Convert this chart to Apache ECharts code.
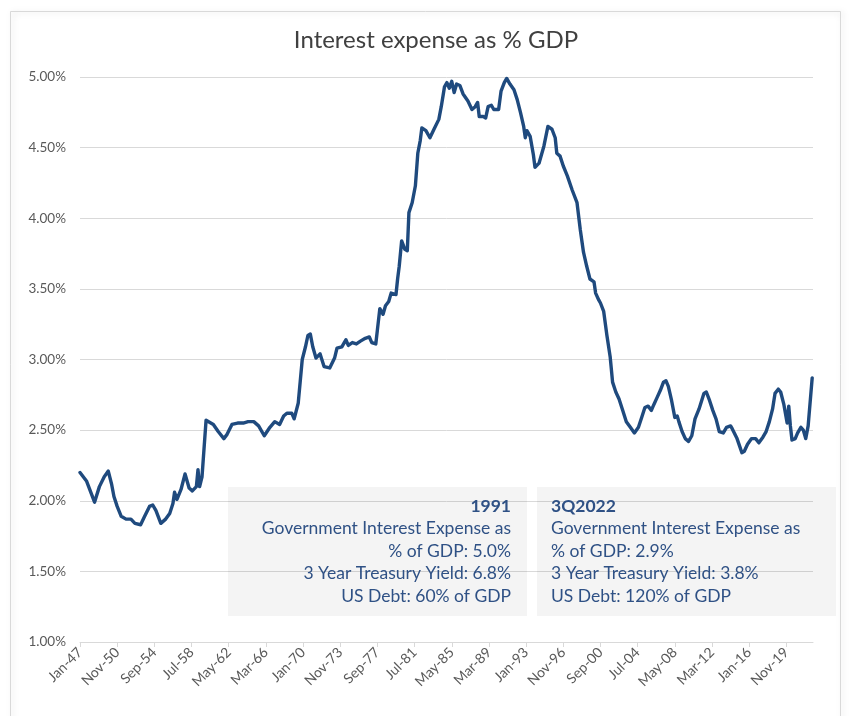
<!DOCTYPE html>
<html>
<head>
<meta charset="utf-8">
<title>Interest expense as % GDP</title>
<script src="https://cdn.jsdelivr.net/npm/echarts@6/dist/echarts.min.js"></script>
<style>
  html, body { margin: 0; padding: 0; background: #ffffff; }
  #chart { width: 851px; height: 716px; }
</style>
</head>
<body>
<div id="chart"></div>
<script>
// Monthly category axis: Jan-47 through Aug-22
const monthNames = ['Jan','Feb','Mar','Apr','May','Jun','Jul','Aug','Sep','Oct','Nov','Dec'];
const firstYear = 1947, lastYear = 2022, lastMonth = 8; // Aug
const monthCats = [];
for (let y = firstYear; y <= lastYear; y++) {
  for (let m = 0; m < 12; m++) {
    if (y === lastYear && m >= lastMonth) break;
    monthCats.push(monthNames[m] + '-' + String(y % 100).padStart(2, '0'));
  }
}

// Government interest expense as % of GDP, observation months
const obsMonths = [
  'Jan-47','Sep-47','Jan-48','Jul-48','Jan-49','Jul-49','Dec-49','Apr-50','Jul-50','Nov-50',
  'Apr-51','Oct-51','Apr-52','Sep-52','Apr-53','Sep-53','Mar-54','Jul-54','Nov-54','May-55',
  'Nov-55','Apr-56','Aug-56','Oct-56','Jan-57','Jun-57','Nov-57','Apr-58','Aug-58','Jan-59',
  'Mar-59','May-59','Aug-59','Jan-60','Mar-60','Oct-60','Apr-61','Nov-61','Mar-62','Sep-62',
  'Apr-63','Nov-63','May-64','Dec-64','Jun-65','Jan-66','Aug-66','Feb-67','Aug-67','Jan-68',
  'May-68','Nov-68','Feb-69','Jul-69','Dec-69','Apr-70','Jul-70','Oct-70','Jan-71','May-71',
  'Oct-71','Mar-72','Oct-72','Apr-73','Jul-73','Jan-74','Apr-74','Jun-74','Sep-74','Feb-75',
  'Jul-75','Dec-75','Jun-76','Nov-76','Feb-77','Jul-77','Sep-77','Dec-77','Apr-78','Jul-78',
  'Nov-78','Feb-79','Aug-79','Oct-79','Dec-79','Mar-80','Jul-80','Oct-80','Dec-80','Apr-81',
  'Aug-81','Nov-81','Feb-82','Apr-82','Sep-82','Feb-83','Jul-83','Jan-84','Apr-84','Aug-84',
  'Nov-84','Feb-85','May-85','Aug-85','Nov-85','Mar-86','Jul-86','Jan-87','Jun-87','Oct-87',
  'Jan-88','Mar-88','Aug-88','Nov-88','Feb-89','Jun-89','Sep-89','Mar-90','Jun-90','Oct-90',
  'Jan-91','May-91','Oct-91','Feb-92','Jun-92','Oct-92','Dec-92','Feb-93','Jun-93','Oct-93',
  'Dec-93','May-94','Nov-94','Apr-95','Sep-95','Jan-96','Mar-96','Jul-96','Nov-96','Apr-97',
  'Oct-97','Apr-98','Aug-98','Dec-98','Apr-99','Aug-99','Jan-00','Mar-00','Jul-00','Sep-00',
  'Jan-01','May-01','Sep-01','Dec-01','Apr-02','Aug-02','Dec-02','May-03','Oct-03','Mar-04',
  'Aug-04','Dec-04','Apr-05','Aug-05','Dec-05','Mar-06','Jul-06','Nov-06','Mar-07','Jun-07',
  'Sep-07','Jan-08','May-08','Aug-08','Oct-08','Feb-09','Jun-09','Oct-09','Feb-10','Jun-10',
  'Nov-10','May-11','Aug-11','Dec-11','Apr-12','Aug-12','Dec-12','May-13','Sep-13','Feb-14',
  'Apr-14','Oct-14','Jan-15','Apr-15','Jul-15','Nov-15','Apr-16','Sep-16','Jan-17','Jun-17',
  'Oct-17','Feb-18','Jun-18','Sep-18','Jan-19','Apr-19','Aug-19','Dec-19','Feb-20','Apr-20',
  'Jun-20','Oct-20','Jan-21','May-21','Aug-21','Nov-21','Feb-22','Jul-22'
];
const interestPctGdp = [
  2.20,2.14,2.08,1.99,2.10,2.17,2.21,2.12,2.03,1.96,
  1.89,1.87,1.87,1.84,1.83,1.89,1.96,1.97,1.93,1.84,
  1.87,1.91,1.98,2.06,2.01,2.08,2.19,2.09,2.07,2.10,
  2.22,2.10,2.17,2.57,2.58,2.54,2.49,2.44,2.47,2.54,
  2.55,2.55,2.56,2.56,2.53,2.46,2.52,2.56,2.54,2.60,
  2.62,2.62,2.58,2.69,3.00,3.09,3.17,3.18,3.09,3.01,
  3.04,2.95,2.94,3.01,3.08,3.09,3.12,3.14,3.10,3.12,
  3.11,3.13,3.15,3.16,3.12,3.11,3.21,3.36,3.32,3.38,
  3.41,3.47,3.46,3.57,3.66,3.84,3.78,3.77,4.04,4.11,
  4.23,4.46,4.55,4.64,4.62,4.57,4.63,4.70,4.79,4.93,
  4.96,4.92,4.97,4.89,4.95,4.94,4.88,4.83,4.77,4.79,
  4.82,4.72,4.72,4.71,4.79,4.80,4.77,4.77,4.90,4.96,
  4.99,4.95,4.91,4.84,4.75,4.65,4.57,4.62,4.58,4.45,
  4.36,4.39,4.51,4.65,4.63,4.57,4.46,4.44,4.37,4.30,
  4.20,4.11,3.92,3.76,3.66,3.57,3.55,3.47,3.42,3.40,
  3.34,3.17,3.02,2.84,2.77,2.72,2.65,2.56,2.52,2.48,
  2.52,2.59,2.66,2.67,2.64,2.68,2.73,2.78,2.84,2.85,
  2.81,2.71,2.59,2.60,2.56,2.49,2.44,2.42,2.46,2.58,
  2.65,2.76,2.77,2.71,2.64,2.58,2.49,2.48,2.52,2.53,
  2.51,2.44,2.39,2.34,2.35,2.40,2.44,2.44,2.41,2.45,
  2.49,2.56,2.65,2.76,2.79,2.77,2.68,2.55,2.67,2.53,
  2.43,2.44,2.48,2.52,2.50,2.44,2.53,2.87
];

// Y axis ticks (percent)
const yTicks = { min: 1.0, max: 5.0, step: 0.5 };
const labelEvery = 46; // months between axis labels

// Call-out notes
const note1991 = [
  '1991',
  'Government Interest Expense as',
  '% of GDP: 5.0%',
  '3 Year Treasury Yield: 6.8%',
  'US Debt: 60% of GDP'
];
const note2022 = [
  '3Q2022',
  'Government Interest Expense as',
  '% of GDP: 2.9%',
  '3 Year Treasury Yield: 3.8%',
  'US Debt: 120% of GDP'
];

const FONT = 'Lato, "Open Sans", "Liberation Sans", sans-serif';
const NOTE_COLOR = '#2f5185';

// Translucent panel (gridlines stay visible through it), text on top
function noteElements(lines, x, align, top, boxX, boxW) {
  const els = [{
    type: 'rect', silent: true, z: 1,
    shape: { x: boxX, y: 487, width: boxW, height: 129 },
    style: { fill: 'rgba(0,0,0,0.045)' }
  }];
  lines.forEach((t, i) => {
    els.push({
      type: 'text', silent: true, z: 100,
      style: {
        text: t, x: x, y: top + i * 22.6,
        textAlign: align, textVerticalAlign: 'middle',
        fill: NOTE_COLOR,
        font: (i === 0 ? 'bold ' : '') + '17.5px ' + FONT
      }
    });
  });
  return els;
}

const chart = echarts.init(document.getElementById('chart'), null, { renderer: 'canvas' });

chart.setOption({
  backgroundColor: '#ffffff',
  animation: false,
  title: {
    text: 'Interest expense as % GDP',
    left: 431, top: 23, textAlign: 'center',
    textStyle: { fontFamily: FONT, fontSize: 24, fontWeight: 'normal', color: '#404040' }
  },
  grid: { left: 80, right: 38, top: 77, bottom: 74, containLabel: false },
  xAxis: {
    type: 'category',
    data: monthCats,
    boundaryGap: false,
    axisLine: { lineStyle: { color: '#d9d9d9', width: 1 } },
    axisTick: { show: true, interval: labelEvery - 1, length: 5, lineStyle: { color: '#d9d9d9' } },
    axisLabel: {
      interval: labelEvery - 1, rotate: 45, margin: 8,
      fontFamily: FONT, fontSize: 14, color: '#595959'
    },
    splitLine: { show: false }
  },
  yAxis: {
    type: 'value',
    min: yTicks.min, max: yTicks.max, interval: yTicks.step,
    axisLine: { show: false },
    axisTick: { show: false },
    axisLabel: {
      margin: 14, fontFamily: FONT, fontSize: 13.5, color: '#595959',
      formatter: v => v.toFixed(2) + '%'
    },
    splitLine: { lineStyle: { color: '#d9d9d9', width: 1 } }
  },
  graphic: {
    elements: [
      {
        type: 'rect', silent: true, z: -10,
        shape: { x: 10.5, y: 11.5, width: 830, height: 720 },
        style: { fill: 'rgba(255,255,255,0)', stroke: '#d9d9d9', lineWidth: 1,
                 shadowColor: 'rgba(0,0,0,0.18)', shadowBlur: 6, shadowOffsetX: 2, shadowOffsetY: 1 }
      },
      ...noteElements(note1991, 511, 'right', 506, 228, 299),
      ...noteElements(note2022, 551, 'left', 506, 537, 299)
    ]
  },
  series: [{
    type: 'line',
    data: obsMonths.map((m, i) => [monthCats.indexOf(m), interestPctGdp[i]]),
    showSymbol: false,
    symbol: 'none',
    smooth: false,
    z: 5,
    lineStyle: { color: '#1f4a7e', width: 3.4, join: 'round', cap: 'round' }
  }]
});
</script>
</body>
</html>
